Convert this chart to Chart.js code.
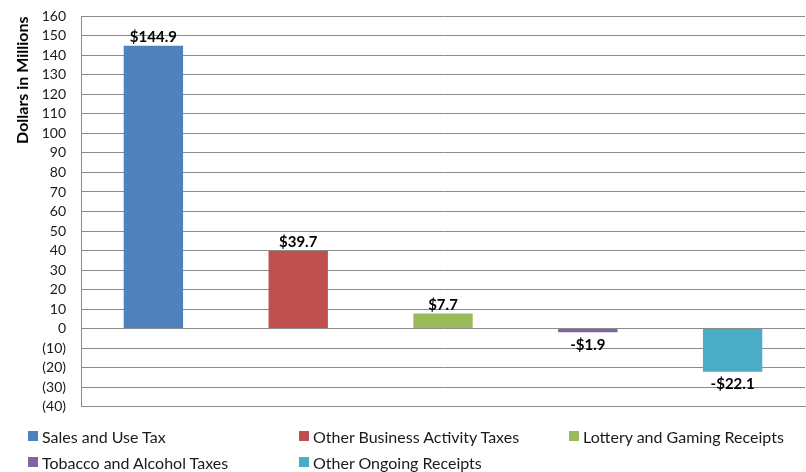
<!DOCTYPE html>
<html lang="en">
<head>
    <meta charset="utf-8"/>
    <title>Revenue change by source</title>
    <script src="https://cdn.jsdelivr.net/npm/chart.js@4.4.0/dist/chart.umd.min.js"></script>
    <style>
        * {
            margin: 0;
            padding: 0;
            box-sizing: border-box;
        }

        body {
            width: 806px;
            height: 472px;
            background: #FFFFFF;
            font-family: "Lato", sans-serif;
            position: relative;
            overflow: hidden;
        }

        .chart-box {
            position: absolute;
            left: 0;
            top: -7px;
            width: 806px;
            height: 437px;
        }

        /* legend laid out like the Excel one: 3 columns, left aligned */
        #legend {
            position: absolute;
            left: 28px;
            top: 426px;
            display: grid;
            grid-template-columns: 271px 270px 240px;
            row-gap: 6px;
            font-size: 16px;
            color: #1A1A1A;
        }

        #legend .item {
            display: flex;
            align-items: center;
            height: 20px;
            white-space: nowrap;
        }

        #legend .swatch {
            width: 10px;
            height: 10px;
            margin-right: 4px;
        }
    </style>
</head>
<body>
    <div class="chart-box">
        <canvas id="chart"></canvas>
    </div>
    <div id="legend"></div>

    <script>
        const categories = [
            "Sales and Use Tax",
            "Other Business Activity Taxes",
            "Lottery and Gaming Receipts",
            "Tobacco and Alcohol Taxes",
            "Other Ongoing Receipts"
        ];
        const values = [144.9, 39.7, 7.7, -1.9, -22.1];
        const colors = ["#4F81BD", "#C0504D", "#9BBB59", "#8064A2", "#4BACC6"];

        const yMin = -40;
        const yMax = 160;
        const yStep = 10;

        function money(v) {
            return (v < 0 ? "-$" : "$") + Math.abs(v).toFixed(1);
        }

        // value labels above / below each bar
        const barLabels = {
            id: "barLabels",
            afterDatasetsDraw(chart) {
                const ctx = chart.ctx;
                const meta = chart.getDatasetMeta(0);
                ctx.save();
                ctx.font = "bold 15px Lato";
                ctx.fillStyle = "#000000";
                ctx.textAlign = "center";
                meta.data.forEach((bar, i) => {
                    const v = values[i];
                    if (v >= 0) {
                        ctx.textBaseline = "bottom";
                        ctx.fillText(money(v), bar.x, bar.y - 1);
                    } else {
                        ctx.textBaseline = "top";
                        ctx.fillText(money(v), bar.x, bar.y + 5);
                    }
                });
                ctx.restore();
            }
        };

        const context = document.getElementById("chart").getContext("2d");
        const chart = new Chart(context, {
            type: "bar",
            data: {
                labels: categories,
                datasets: [{
                    data: values,
                    backgroundColor: colors,
                    borderWidth: 0,
                    barPercentage: 0.41,
                    categoryPercentage: 1
                }]
            },
            options: {
                responsive: true,
                maintainAspectRatio: false,
                animation: false,
                layout: {
                    padding: { top: 0, right: 1, bottom: 3, left: 0 }
                },
                plugins: {
                    legend: { display: false },
                    tooltip: { enabled: false }
                },
                scales: {
                    x: {
                        ticks: { display: false },
                        grid: { display: false, drawTicks: false },
                        border: { display: true, color: "#8C8C8C", width: 1 }
                    },
                    y: {
                        min: yMin,
                        max: yMax,
                        afterFit(scale) {
                            scale.width = 81;
                        },
                        ticks: {
                            stepSize: yStep,
                            padding: 15,
                            color: "#1A1A1A",
                            font: { family: "Lato", size: 14 },
                            callback: v => v < 0 ? "(" + Math.abs(v) + ")" : v
                        },
                        grid: {
                            color: "#8C8C8C",
                            drawTicks: false
                        },
                        border: { display: true, color: "#8C8C8C", width: 1 },
                        title: {
                            display: true,
                            text: "Dollars in Millions",
                            align: "end",
                            color: "#000000",
                            font: { family: "Lato", size: 16, weight: "bold" },
                            padding: { top: 13, bottom: 0 }
                        }
                    }
                }
            },
            plugins: [barLabels]
        });

        // html legend built from the same arrays
        const legend = document.getElementById("legend");
        categories.forEach((name, i) => {
            const item = document.createElement("div");
            item.className = "item";
            const sw = document.createElement("span");
            sw.className = "swatch";
            sw.style.background = colors[i];
            const txt = document.createElement("span");
            txt.textContent = name;
            item.appendChild(sw);
            item.appendChild(txt);
            legend.appendChild(item);
        });
    </script>
</body>
</html>
